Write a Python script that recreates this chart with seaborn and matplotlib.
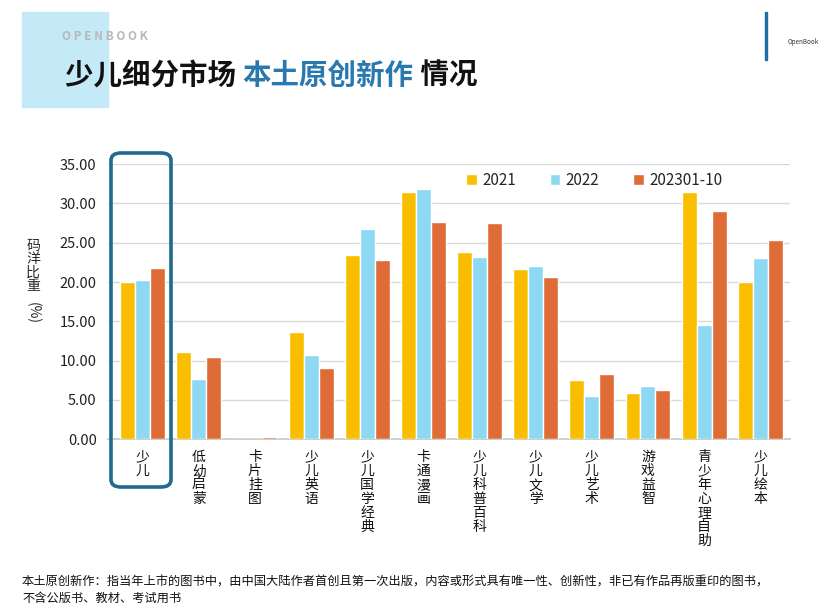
import pandas as pd
import seaborn as sns
import matplotlib.pyplot as plt
from matplotlib.patches import FancyBboxPatch, Rectangle

# Data
categories = ["少儿", "低幼启蒙", "卡片挂图", "少儿英语", "少儿国学经典", "卡通漫画",
              "少儿科普百科", "少儿文学", "少儿艺术", "游戏益智", "青少年心理自助", "少儿绘本"]
years = ["2021", "2022", "202301-10"]
v2021 = [20.0, 11.1, 0.0, 13.6, 23.4, 31.4, 23.8, 21.6, 7.5, 5.9, 31.4, 20.0]
v2022 = [20.2, 7.6, 0.0, 10.7, 26.7, 31.9, 23.2, 22.1, 5.5, 6.7, 14.5, 23.0]
v2023 = [21.8, 10.4, 0.3, 9.0, 22.8, 27.6, 27.5, 20.7, 8.3, 6.2, 29.0, 25.3]
colors = ["#F9BE00", "#8DD8F3", "#DF6C36"]

df = pd.DataFrame({
    "cat": categories * 3,
    "year": [years[0]] * 12 + [years[1]] * 12 + [years[2]] * 12,
    "val": v2021 + v2022 + v2023,
})

sns.set_theme(style="white")
plt.rcParams['font.family'] = ['Noto Sans CJK SC', 'DejaVu Sans']

fig = plt.figure(figsize=(8.29, 6.15), dpi=100)
ax = fig.add_axes([0.130, 0.286, 0.823, 0.447])

sns.barplot(data=df, x="cat", y="val", hue="year", palette=colors, width=0.8,
            saturation=1, ax=ax, zorder=3)

ax.set_ylim(0, 35)
ax.set_xlim(-0.62, 11.53)
ax.set_yticks(range(0, 36, 5))
ax.set_yticklabels([f"{t:.2f}" for t in range(0, 36, 5)], fontsize=10.5, color="#222222")
ax.yaxis.grid(True, color="#D9D9D9", linewidth=1, zorder=0)
ax.set_axisbelow(True)
for s in ["top", "right", "left"]:
    ax.spines[s].set_visible(False)
ax.spines["bottom"].set_color("#C8C8C8")
ax.spines["bottom"].set_zorder(1)
ax.tick_params(axis="both", length=0)
ax.tick_params(axis="y", pad=8)
ax.set_xlabel("")
ax.set_ylabel("")
ax.set_xticks(range(len(categories)))
ax.set_xticklabels(["\n".join(c) for c in categories], fontsize=10, linespacing=1.0,
                   va="top", color="#111111")
ax.tick_params(axis="x", pad=8)

ax.legend(loc="center", bbox_to_anchor=(0.713, 0.942), ncol=3, frameon=False,
          fontsize=11, handlelength=0.7, handleheight=0.7, columnspacing=2.2,
          handletextpad=0.35)

# y label: stacked characters + rotated (%)
fig.text(0.040, 0.568, "码\n洋\n比\n重", fontsize=10, ha="center", va="center", linespacing=0.95)
fig.text(0.040, 0.491, "(%)", fontsize=10, ha="center", va="center", rotation=270)

# header block
fig.patches.append(Rectangle((22 / 829, 1 - 107 / 615), 86 / 829, 95 / 615,
                             transform=fig.transFigure, color="#C4EAF8", zorder=0))
fig.text(62 / 829, 1 - 37 / 615, "O P E N B O O K", fontsize=8.5, color="#B8B8B8",
         fontweight="bold", va="center")
t1 = fig.text(65 / 829, 1 - 76 / 615, "少儿细分市场 ", fontsize=20.5, fontweight="bold",
              color="#111111", va="center")
fig.canvas.draw()
bb = t1.get_window_extent()
t2 = fig.text(bb.x1 / fig.bbox.width, 1 - 76 / 615, "本土原创新作", fontsize=20.5,
              fontweight="bold", color="#2A78B0", va="center")
fig.canvas.draw()
bb2 = t2.get_window_extent()
fig.text(bb2.x1 / fig.bbox.width, 1 - 76 / 615, " 情况", fontsize=20.5, fontweight="bold",
         color="#111111", va="center")

# logo stand-in
fig.text(803 / 829, 1 - 44 / 615, "OpenBook", fontsize=4.5, color="#333333", ha="center")
fig.patches.append(Rectangle((765 / 829, 1 - 60 / 615), 2 / 829, 48 / 615,
                             transform=fig.transFigure, color="#1C6EA4"))

# highlight box around first category
fig.patches.append(FancyBboxPatch((111 / 829, 1 - 487 / 615), 60 / 829, 334 / 615,
                                  boxstyle="round,pad=0,rounding_size=0.012",
                                  transform=fig.transFigure, fill=False,
                                  edgecolor="#1F6B8E", linewidth=2.6, zorder=5))

# footnote
fig.text(22 / 829, 1 - 582 / 615,
         "本土原创新作：指当年上市的图书中，由中国大陆作者首创且第一次出版，内容或形式具有唯一性、创新性，非已有作品再版重印的图书，",
         fontsize=8.8, color="#111111", va="center")
fig.text(22 / 829, 1 - 598 / 615, "不含公版书、教材、考试用书",
         fontsize=8.8, color="#111111", va="center")

fig.savefig("out.png", dpi=100)
